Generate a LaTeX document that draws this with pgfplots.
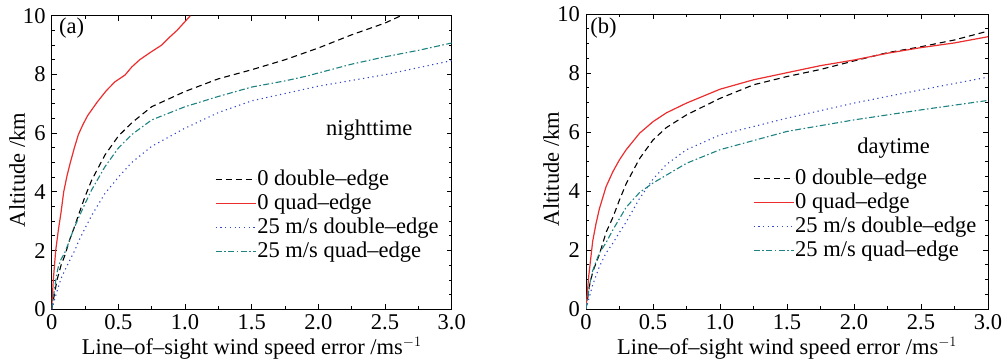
\documentclass[border=0pt]{standalone}
\usepackage{pgfplots}
\pgfplotsset{compat=1.18}
\usepackage{fontspec}
\setmainfont{Liberation Serif}
\definecolor{cred}{RGB}{235,45,45}
\definecolor{cblue}{RGB}{50,70,200}
\definecolor{cteal}{RGB}{30,130,130}
\pgfplotsset{
  panel/.style={
    scale only axis,
    xmin=0, xmax=3, ymin=0, ymax=10,
    xtick={0,0.5,1,1.5,2,2.5,3},
    xticklabels={0,0.5,1.0,1.5,2.0,2.5,3.0},
    ytick={0,2,4,6,8,10},
    minor xtick={0.25,0.75,1.25,1.75,2.25,2.75},
    minor ytick={0.5,1,1.5,2.5,3,3.5,4.5,5,5.5,6.5,7,7.5,8.5,9,9.5},
    tick align=inside,
    major tick length=5bp, minor tick length=3bp,
    every tick/.style={black, line width=0.8bp},
    axis line style={black, line width=0.9bp},
    /pgf/number format/assume math mode=true,
    xticklabel style={inner sep=0pt, anchor=north, yshift=-5bp},
    yticklabel style={inner sep=0pt, anchor=east, xshift=-6bp},
    xlabel={Line--of--sight wind speed error /ms$^{-1}$},
    ylabel={Altitude /km},
    xlabel style={at={(axis description cs:0.5,-0.153)}, anchor=base, inner sep=0pt,
      font=\fontsize{22.5bp}{26bp}\selectfont},
    ylabel style={at={(axis description cs:-0.0865,0.475)}, anchor=center, inner sep=0pt},
    legend cell align=left,
    legend image code/.code={\draw[#1] (0bp,0bp) -- (40bp,0bp);},
    legend style={draw=none, fill=none, inner sep=0pt, row sep=3bp, column sep=0bp,
      nodes={inner ysep=0pt, inner xsep=1bp, text height=16bp, text depth=5bp}},
  },
  sdash/.style={black, line width=1.1bp, dash pattern=on 6bp off 4bp},
  sred/.style={cred, line width=1.2bp},
  sdot/.style={cblue, line width=1.1bp, dash pattern=on 1.2bp off 3.5bp},
  sdd/.style={cteal, line width=1.1bp, dash pattern=on 6bp off 2.5bp on 1.5bp off 2.5bp},
}
\begin{document}
\begin{tikzpicture}[font=\fontsize{22.5bp}{26bp}\selectfont]
\useasboundingbox (0,0) rectangle (1004bp,364bp);
% ---------------- panel (a)
\begin{axis}[panel, at={(51.7bp,54.7bp)}, anchor=south west,
  width=400bp, height=293.6bp,
  legend style={at={(axis description cs:0.408,0.478)}, anchor=north west}]
\addplot[sdash] coordinates {(0,0) (0.02,0.5) (0.04,1.0) (0.07,1.5) (0.1,1.85) (0.137,2.4) (0.17,2.8) (0.2,3.2) (0.25,3.84) (0.3,4.4) (0.4,5.26) (0.5,5.9) (0.6,6.35) (0.75,6.9) (1.0,7.42) (1.25,7.85) (1.5,8.16) (1.75,8.5) (2.0,8.9) (2.25,9.35) (2.5,9.75) (2.62,10)};
\addlegendentry{0 double--edge}
\addplot[sred] coordinates {(0,0) (0.012,1.0) (0.03,2.0) (0.05,2.7) (0.07,3.3) (0.09,4.0) (0.115,4.55) (0.14,5.0) (0.17,5.5) (0.2,5.95) (0.235,6.3) (0.27,6.6) (0.34,7.05) (0.41,7.45) (0.475,7.75) (0.55,7.98) (0.6,8.25) (0.66,8.5) (0.74,8.75) (0.825,9.0) (0.88,9.25) (0.94,9.5) (1.04,10.0)};
\addlegendentry{0 quad--edge}
\addplot[sdot] coordinates {(0,0) (0.05,0.77) (0.075,1.1) (0.1,1.34) (0.15,1.8) (0.175,2.02) (0.2,2.3) (0.25,2.76) (0.3,3.2) (0.4,3.95) (0.5,4.5) (0.6,5.0) (0.75,5.55) (1.0,6.17) (1.25,6.7) (1.5,7.1) (2.0,7.6) (2.5,7.99) (3.0,8.47)};
\addlegendentry{25 m/s double--edge}
\addplot[sdd] coordinates {(0,0) (0.02,0.66) (0.0375,1.2) (0.05,1.45) (0.07,1.7) (0.1,1.95) (0.13,2.3) (0.162,2.7) (0.2,3.1) (0.25,3.6) (0.3,4.07) (0.4,4.86) (0.5,5.49) (0.6,5.95) (0.75,6.45) (1.0,6.9) (1.25,7.25) (1.5,7.57) (1.75,7.78) (1.92,7.95) (2.0,8.05) (2.25,8.35) (2.5,8.6) (2.75,8.82) (3.0,9.07)};
\addlegendentry{25 m/s quad--edge}
\node at (axis description cs:0.794,0.611) {nighttime};
\node at (axis description cs:0.05,0.958) {(a)};
\end{axis}
% ---------------- panel (b)
\begin{axis}[panel, at={(586bp,55bp)}, anchor=south west,
  width=402bp, height=295bp,
  legend style={at={(axis description cs:0.415,0.478)}, anchor=north west}]
\addplot[sdash] coordinates {(0,0) (0.03,0.9) (0.055,1.32) (0.1,1.85) (0.13,2.3) (0.15,2.6) (0.2,3.1) (0.25,3.7) (0.3,4.25) (0.4,5.1) (0.5,5.73) (0.6,6.15) (0.75,6.58) (1.0,7.14) (1.25,7.6) (1.5,7.88) (1.75,8.12) (2.0,8.41) (2.25,8.69) (2.5,8.89) (2.75,9.12) (3.0,9.42)};
\addlegendentry{0 double--edge}
\addplot[sred] coordinates {(0,0) (0.02,1.1) (0.05,2.3) (0.075,2.9) (0.1,3.4) (0.15,4.15) (0.2,4.65) (0.25,5.06) (0.3,5.4) (0.4,5.96) (0.5,6.35) (0.6,6.65) (0.75,6.98) (1.0,7.45) (1.25,7.77) (1.5,8.01) (1.75,8.25) (2.0,8.44) (2.25,8.67) (2.5,8.86) (2.75,9.02) (3.0,9.23)};
\addlegendentry{0 quad--edge}
\addplot[sdot] coordinates {(0,0) (0.05,0.82) (0.1,1.44) (0.15,1.9) (0.2,2.23) (0.25,2.6) (0.3,2.95) (0.4,3.75) (0.5,4.4) (0.6,4.9) (0.75,5.4) (1.0,5.9) (1.5,6.47) (2.0,6.98) (2.5,7.43) (3.0,7.86)};
\addlegendentry{25 m/s double--edge}
\addplot[sdd] coordinates {(0,0) (0.03,0.9) (0.05,1.3) (0.08,1.66) (0.1,1.9) (0.15,2.25) (0.2,2.68) (0.3,3.45) (0.4,3.95) (0.5,4.27) (0.75,4.94) (1.0,5.4) (1.5,6.02) (2.0,6.41) (2.5,6.75) (3.0,7.07)};
\addlegendentry{25 m/s quad--edge}
\node at (axis description cs:0.765,0.546) {daytime};
\node at (axis description cs:0.0435,0.953) {(b)};
\end{axis}
\end{tikzpicture}
\end{document}
